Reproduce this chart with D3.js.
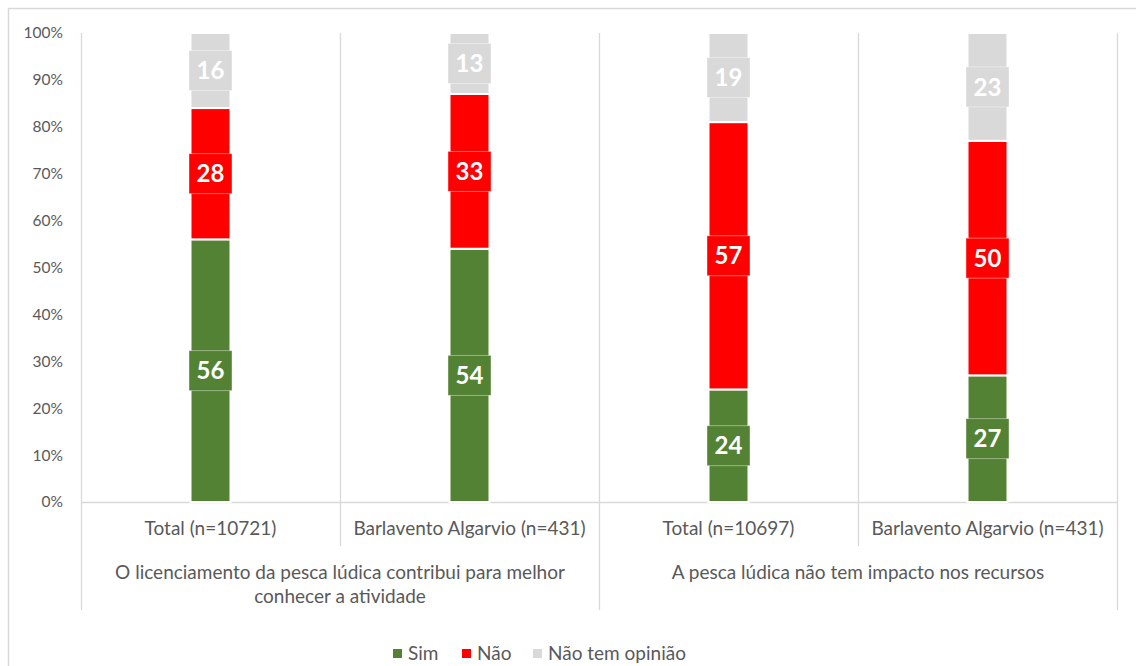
<!DOCTYPE html>
<html>
<head>
<meta charset="utf-8">
<script src="https://cdn.jsdelivr.net/npm/d3@7/dist/d3.min.js"></script>
<style>
  html, body { margin: 0; padding: 0; background: #fff; }
  svg { display: block; font-family: Lato, "Open Sans", sans-serif; }
</style>
</head>
<body>
<svg id="chart" width="1136" height="666"></svg>
<script>
// ---- data ----
const categories = ["Total (n=10721)", "Barlavento Algarvio (n=431)", "Total (n=10697)", "Barlavento Algarvio (n=431)"];
const groups = [
  ["O licenciamento da pesca lúdica contribui para melhor", "conhecer a atividade"],
  ["A pesca lúdica não tem impacto nos recursos"]
];
const seriesNames = ["Sim", "Não", "Não tem opinião"];
const sim = [56, 54, 24, 27];
const nao = [28, 33, 57, 50];
const semOpiniao = [16, 13, 19, 23];
const yTicks = [0, 10, 20, 30, 40, 50, 60, 70, 80, 90, 100];
const colors = ["#548235", "#ff0000", "#d9d9d9"];

// ---- layout ----
const svg = d3.select("#chart");
const plot = { left: 81, right: 1117, top: 33, bottom: 502 };
const textColor = "#595959";
const gridColor = "#d9d9d9";
const labelFont = "19px";

// outer border
svg.append("rect").attr("x", 8.5).attr("y", 8.5).attr("width", 1150).attr("height", 680)
  .attr("fill", "none").attr("stroke", gridColor).attr("stroke-width", 1.5);

const keys = categories.map((c, i) => "c" + i);
const x = d3.scaleBand().domain(keys).range([plot.left, plot.right]).paddingInner(0).paddingOuter(0);
const y = d3.scaleLinear().domain([0, 100]).range([plot.bottom, plot.top]);

const barW = 40;

// y axis labels
const yAxis = d3.axisLeft(y).tickValues(yTicks).tickSize(0).tickPadding(18).tickFormat(d => d + "%");
const gy = svg.append("g").attr("transform", `translate(${plot.left},0)`).call(yAxis);
gy.select(".domain").remove();
gy.selectAll("text").attr("fill", textColor).style("font-size", "15.5px").style("font-family", "Lato, sans-serif");

// horizontal axis line
svg.append("line").attr("x1", plot.left).attr("x2", plot.right)
  .attr("y1", y(0) + 0.5).attr("y2", y(0) + 0.5).attr("stroke", gridColor).attr("stroke-width", 1.3);

// vertical separators
const bounds = keys.map(k => x(k)).concat([plot.right]);
bounds.forEach((bx, i) => {
  const outer = (i % 2 === 0);
  svg.append("line").attr("x1", bx + 0.5).attr("x2", bx + 0.5)
    .attr("y1", plot.top).attr("y2", outer ? 610 : 546)
    .attr("stroke", gridColor).attr("stroke-width", 1.3);
});

// stacked data
const rows = keys.map((k, i) => ({ key: k, "Sim": sim[i], "Não": nao[i], "Não tem opinião": semOpiniao[i] }));
const stack = d3.stack().keys(seriesNames)(rows);

const layers = svg.append("g").selectAll("g").data(stack).join("g")
  .attr("fill", (d, i) => colors[i]);

layers.selectAll("rect").data(d => d).join("rect")
  .attr("x", d => x(d.data.key) + x.bandwidth() / 2 - barW / 2)
  .attr("width", barW)
  .attr("y", d => y(d[1]))
  .attr("height", d => y(d[0]) - y(d[1]))
  .attr("stroke", "#fff").attr("stroke-width", 2);

// data labels
const labelG = svg.append("g");
stack.forEach((layer, si) => {
  layer.forEach(d => {
    const cx = x(d.data.key) + x.bandwidth() / 2;
    const cy = y((d[0] + d[1]) / 2);
    labelG.append("rect").attr("x", cx - 21.5).attr("y", cy - 20).attr("width", 43).attr("height", 40)
      .attr("fill", colors[si]).attr("stroke", "#fff").attr("stroke-opacity", 0.5).attr("stroke-width", 0.8);
    labelG.append("text").attr("x", cx).attr("y", cy).attr("dy", "0.36em")
      .attr("text-anchor", "middle").attr("fill", "#fff")
      .style("font-size", "24px").style("font-weight", "bold")
      .text(Math.round(d[1] - d[0]));
  });
});

// category labels
const xAxis = d3.axisBottom(x).tickSize(0).tickPadding(0).tickFormat((k, i) => categories[i]);
const gx = svg.append("g").attr("transform", `translate(0,${plot.bottom})`).call(xAxis);
gx.select(".domain").remove();
gx.selectAll("text").attr("fill", textColor).attr("dy", 0).attr("y", 33)
  .style("font-size", labelFont).style("font-family", "Lato, sans-serif");

// group labels
groups.forEach((lines, gi) => {
  const gx0 = x(keys[gi * 2]);
  const gx1 = x(keys[gi * 2 + 1]) + x.bandwidth();
  const t = svg.append("text").attr("text-anchor", "middle").attr("fill", textColor)
    .style("font-size", labelFont);
  lines.forEach((ln, li) => {
    t.append("tspan").attr("x", (gx0 + gx1) / 2).attr("y", 579 + li * 24).text(ln);
  });
});

// legend
const legendItems = [
  { name: seriesNames[0], color: colors[0], x: 393 },
  { name: seriesNames[1], color: colors[1], x: 462 },
  { name: seriesNames[2], color: colors[2], x: 533 }
];
const lg = svg.append("g");
legendItems.forEach(it => {
  lg.append("rect").attr("x", it.x).attr("y", 649).attr("width", 9).attr("height", 9).attr("fill", it.color);
  lg.append("text").attr("x", it.x + 15).attr("y", 660).attr("fill", textColor)
    .style("font-size", labelFont).text(it.name);
});
</script>
</body>
</html>
